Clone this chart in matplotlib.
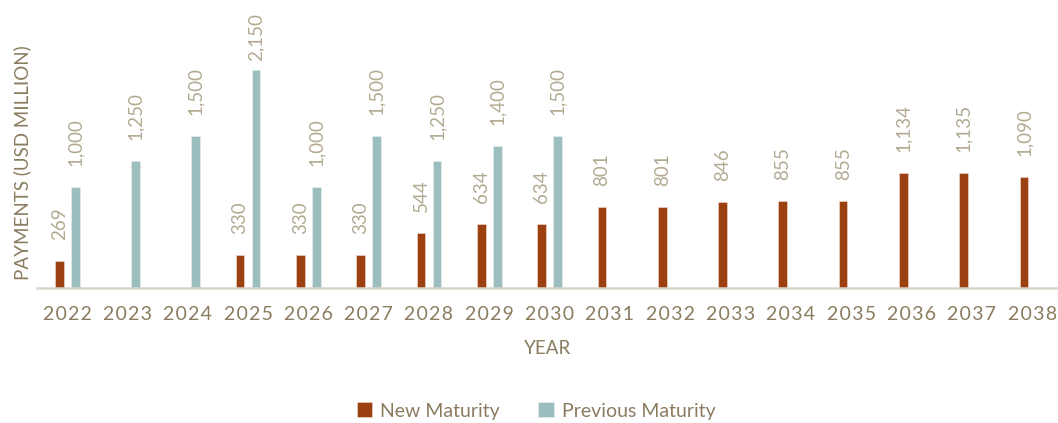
import matplotlib
matplotlib.use("Agg")
import matplotlib.pyplot as plt
import numpy as np

years = [str(y) for y in range(2022, 2039)]
new_maturity = [269, 0, 0, 330, 330, 330, 544, 634, 634, 801, 801, 846, 855, 855, 1134, 1135, 1090]
previous_maturity = [1000, 1250, 1500, 2150, 1000, 1500, 1250, 1400, 1500, 0, 0, 0, 0, 0, 0, 0, 0]

NEW_COLOR = "#9c3f11"
PREV_COLOR = "#9dbebe"
TICK_COLOR = "#8b7c60"
LABEL_COLOR = "#b2aa91"

plt.rcParams['font.family'] = ['Lato', 'DejaVu Sans']

W, H = 1058, 423
fig = plt.figure(figsize=(W / 100, H / 100), dpi=100)
# axes from x=37px, bottom axis line at y=288px
ax = fig.add_axes([37 / W, 1 - 288 / H, (W - 37) / W, 288 / H])

x = np.arange(len(years))
width = 0.145
off = 0.133
ymax = 2840
ax.set_xlim(-0.5, len(years) - 0.57)
ax.set_ylim(0, ymax)

px_per_unit = 288 / ymax
gap = 21 / px_per_unit


def add_labels(xs, vals):
    for xi, v in zip(xs, vals):
        if v <= 0:
            continue
        y = v + gap
        # keep long labels inside the plot area
        est_len = len(f"{v:,}") * 9.5 / px_per_unit
        if y + est_len > ymax - 13 / px_per_unit:
            y = ymax - 13 / px_per_unit - est_len
        ax.text(xi, y, f"{v:,}", rotation=90, ha="center", va="bottom",
                color=LABEL_COLOR, fontsize=13.5)


nm = np.array(new_maturity)
pm = np.array(previous_maturity)
ax.bar(x - off, nm, width, color=NEW_COLOR, label="New Maturity", edgecolor="#f0e0d8", linewidth=0.4)
ax.bar(x + off, pm, width, color=PREV_COLOR, label="Previous Maturity", edgecolor="#e8f0f0", linewidth=0.4)
add_labels(x - off, nm)
add_labels(x + off, pm)

for s in ["top", "right", "left"]:
    ax.spines[s].set_visible(False)
ax.spines["bottom"].set_color("#d9d5cc")
ax.spines["bottom"].set_linewidth(1.8)
ax.set_yticks([])
ax.set_xticks(x)
# years are drawn letter-spaced in the original
ax.set_xticklabels(["\u200a".join(y) for y in years], fontsize=14, color=TICK_COLOR)
ax.tick_params(axis="x", length=0, pad=13)

fig.text(22 / W, 1 - 163 / H, "PAYMENTS (USD MILLION)", rotation=90, ha="center", va="center",
         color=TICK_COLOR, fontsize=13.5)
fig.text(548 / W, 1 - 348 / H, "YEAR", ha="center", va="center", color=TICK_COLOR, fontsize=13.5)

leg = fig.legend(loc="center", bbox_to_anchor=(536 / W, 1 - 411 / H), ncol=2, frameon=False,
                 fontsize=14, handlelength=0.8, handleheight=0.8, handletextpad=0.4, columnspacing=2.0,
                 labelcolor=TICK_COLOR)

fig.savefig("out.png", dpi=100)
